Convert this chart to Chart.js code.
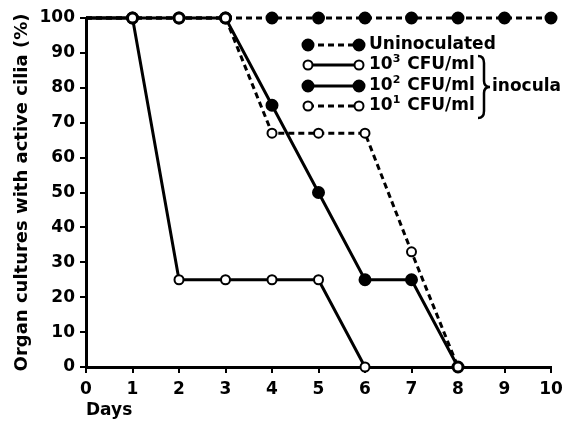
<!DOCTYPE html>
<html>
<head>
<meta charset="utf-8">
<script src="https://cdn.jsdelivr.net/npm/chart.js@4"></script>
<style>
  html, body { margin: 0; padding: 0; background: #fff; }
  #wrap { width: 564px; height: 421px; }
</style>
</head>
<body>
<div id="wrap"><canvas id="chartCanvas" width="564" height="421"></canvas></div>
<script>
// ------- Data -------
const days = [0, 1, 2, 3, 4, 5, 6, 7, 8, 9, 10];
const uninoculated = [100, 100, 100, 100, 100, 100, 100, 100, 100, 100, 100];
const cfu3 = [100, 100, 25, 25, 25, 25, 0];
const cfu2 = [100, 100, 100, 100, 75, 50, 25, 25, 0];
const cfu1 = [100, 100, 100, 100, 67, 67, 67, 33, 0];
const legendLabels = ["Uninoculated", "10|3| CFU/ml", "10|2| CFU/ml", "10|1| CFU/ml"];

const FONT = "'DejaVu Sans', sans-serif";

// ------- Helpers -------
function toPoints(values) {
  return values.map((v, i) => ({ x: days[i], y: v }));
}
function radii(values, r) {
  // no marker on day 0 (lines start at the axis)
  return values.map((_, i) => (i === 0 ? 0 : r));
}

// ------- Legend drawn inside the plot -------
const insideLegend = {
  id: "insideLegend",
  afterDraw(chart) {
    const ctx = chart.ctx;
    const rows = [
      { y: 45, dash: [6, 4], filled: true },
      { y: 65, dash: [], filled: false },
      { y: 86, dash: [], filled: true },
      { y: 106, dash: [6, 4], filled: false },
    ];
    const x0 = 308, x1 = 359, tx = 369;
    ctx.save();
    rows.forEach((row, i) => {
      ctx.strokeStyle = "#000";
      ctx.lineWidth = 3;
      ctx.setLineDash(row.dash);
      ctx.beginPath();
      ctx.moveTo(x0, row.y);
      ctx.lineTo(x1, row.y);
      ctx.stroke();
      ctx.setLineDash([]);
      [x0, x1].forEach((px) => {
        ctx.beginPath();
        ctx.arc(px, row.y, row.filled ? 5.5 : 4.5, 0, Math.PI * 2);
        ctx.fillStyle = row.filled ? "#000" : "#fff";
        ctx.fill();
        ctx.lineWidth = 2;
        ctx.stroke();
      });
      // label, with optional superscript written as "base|sup|rest"
      const parts = legendLabels[i].split("|");
      ctx.fillStyle = "#000";
      ctx.textBaseline = "middle";
      ctx.textAlign = "left";
      ctx.font = "bold 17px " + FONT;
      let cx = tx;
      ctx.fillText(parts[0], cx, row.y);
      cx += ctx.measureText(parts[0]).width;
      if (parts.length > 1) {
        ctx.font = "bold 11px " + FONT;
        ctx.fillText(parts[1], cx, row.y - 6);
        cx += ctx.measureText(parts[1]).width + 1;
        ctx.font = "bold 17px " + FONT;
        ctx.fillText(parts[2], cx, row.y);
      }
    });
    // brace grouping the three inocula
    const bx = 483, top = 56, bot = 118, mid = (top + bot) / 2;
    ctx.strokeStyle = "#000";
    ctx.lineWidth = 2.5;
    ctx.beginPath();
    ctx.moveTo(bx - 5, top);
    ctx.quadraticCurveTo(bx + 1, top, bx + 1, top + 7);
    ctx.lineTo(bx + 1, mid - 6);
    ctx.quadraticCurveTo(bx + 1, mid, bx + 7, mid);
    ctx.quadraticCurveTo(bx + 1, mid, bx + 1, mid + 6);
    ctx.lineTo(bx + 1, bot - 7);
    ctx.quadraticCurveTo(bx + 1, bot, bx - 5, bot);
    ctx.stroke();
    ctx.font = "bold 17px " + FONT;
    ctx.fillText("inocula", bx + 9, mid);
    ctx.restore();
  },
};

// ------- Chart -------
function lineSet(label, values, filled, dashed, order) {
  return {
    label,
    data: toPoints(values),
    borderColor: "#000",
    borderWidth: 3,
    borderDash: dashed ? [6, 4] : [],
    pointRadius: radii(values, filled ? 5.5 : 4.5),
    pointBorderWidth: 2,
    pointBackgroundColor: filled ? "#000" : "#fff",
    pointBorderColor: "#000",
    tension: 0,
    clip: false,
    order,
  };
}

new Chart(document.getElementById("chartCanvas").getContext("2d"), {
  type: "line",
  data: {
    datasets: [
      lineSet("10^3 CFU/ml", cfu3, false, false, 0),
      lineSet("10^1 CFU/ml", cfu1, false, true, 1),
      lineSet("10^2 CFU/ml", cfu2, true, false, 2),
      lineSet("Uninoculated", uninoculated, true, true, 3),
    ],
  },
  options: {
    responsive: false,
    animation: false,
    layout: { padding: { top: 18, right: 13, left: 0, bottom: 0 } },
    plugins: { legend: { display: false }, tooltip: { enabled: false } },
    scales: {
      x: {
        type: "linear",
        min: 0,
        max: 10,
        afterFit: (s) => { s.height = 54; s.paddingLeft = 0; s.paddingRight = 0; },
        ticks: { stepSize: 1, color: "#000", font: { family: FONT, size: 17, weight: "bold" }, padding: 6 },
        grid: { drawOnChartArea: false, color: "#000", lineWidth: 2, tickLength: 6 },
        border: { color: "#000", width: 3 },
        title: { display: true, text: "Days", align: "start", color: "#000", padding: { top: 4, bottom: 0 },
                 font: { family: FONT, size: 17, weight: "bold" } },
      },
      y: {
        min: 0,
        max: 100,
        afterFit: (s) => { s.width = 86; },
        ticks: { stepSize: 10, color: "#000", font: { family: FONT, size: 17, weight: "bold" }, padding: 5 },
        grid: { drawOnChartArea: false, color: "#000", lineWidth: 2, tickLength: 6 },
        border: { color: "#000", width: 3 },
        title: { display: true, text: "Organ cultures with active cilia (%)", color: "#000", padding: { top: 12, bottom: 0 },
                 font: { family: FONT, size: 18, weight: "bold" } },
      },
    },
  },
  plugins: [insideLegend],
});
</script>
</body>
</html>
